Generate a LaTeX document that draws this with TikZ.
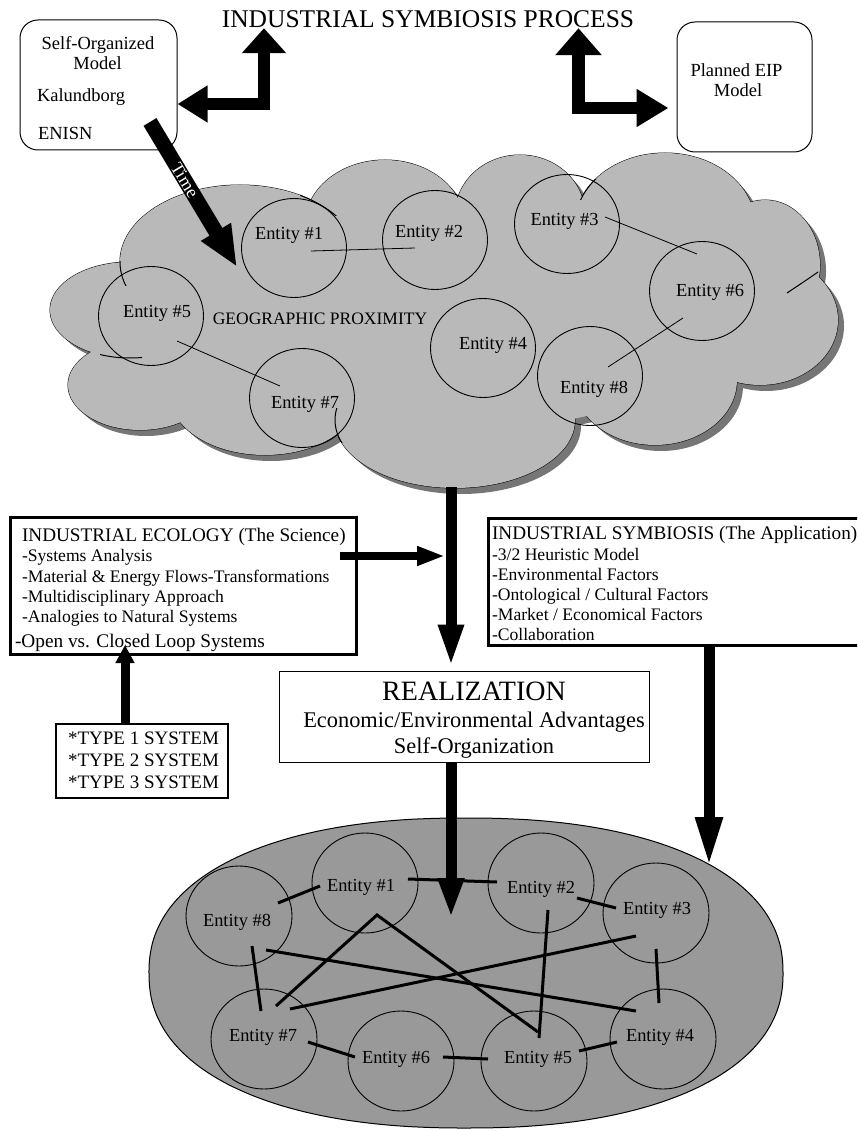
\documentclass[tikz,border=0pt]{standalone}
\usepackage{fontspec}
\setmainfont{Liberation Serif}
\usetikzlibrary{arrows.meta,shapes.geometric}
\definecolor{cloudc}{RGB}{185,185,185}
\definecolor{shadc}{RGB}{118,118,118}
\definecolor{ellc}{RGB}{153,153,153}
\newcommand\myfs[1]{\fontsize{#1}{#1}\selectfont}
\begin{document}
\begin{tikzpicture}[x=1pt,y=-1pt,
  txt/.style={inner sep=0pt,outer sep=0pt,anchor=base west,font=\myfs{17.6}},
  ctxt/.style={inner sep=0pt,outer sep=0pt,anchor=base,font=\myfs{18.5}},
  enttxt/.style={inner sep=0pt,anchor=base,font=\myfs{18.4}},
  ent/.style={draw,ellipse,line width=0.9pt,minimum width=105pt,minimum height=99pt,inner sep=0pt},
  bent/.style={draw,ellipse,line width=0.9pt,minimum width=106pt,minimum height=100pt,inner sep=0pt},
  rbox/.style={draw,rounded corners=18pt,line width=1pt,inner sep=0pt,fill=white},
  sqbox/.style={draw,inner sep=0pt,fill=white},
  cloudlink/.style={line width=0.8pt},
  link/.style={line width=3pt},
]
\useasboundingbox (0,0) rectangle (857,1131);
\clip (0,0) rectangle (857,1131);

% ---------------- title and top boxes
\node[ctxt,font=\myfs{25.5}] (title) at (428,28) {INDUSTRIAL SYMBIOSIS PROCESS};

\node[rbox,minimum width=157pt,minimum height=130pt] (selfbox) at (98.5,85) {};
\node[ctxt] (s1) at (98,50) {Self-Organized};
\node[ctxt] (s2) at (97.5,70) {Model};
\node[txt,font=\myfs{18.5}] (s3) at (37,102) {Kalundborg};
\node[txt,font=\myfs{18.5}] (s4) at (38,140) {ENISN};

\node[rbox,minimum width=135pt,minimum height=130pt] (planned) at (744.5,87) {};
\node[ctxt] (p1) at (736.5,77) {Planned EIP};
\node[ctxt] (p2) at (738,97) {Model};

% L-shaped arrows
\coordinate (lturn) at (264,104);
\draw[line width=12.5pt,line join=miter,{Triangle[length=30pt,width=35pt]}-{Triangle[length=25pt,width=43pt]}]
  (selfbox.east |- lturn) -- (lturn) -- (title.south -| lturn);
\coordinate (rturn) at (578.5,108);
\draw[line width=12.5pt,line join=miter,{Triangle[length=27pt,width=45pt]}-{Triangle[length=32pt,width=36pt]},shorten >=8pt]
  (title.south -| rturn) -- (rturn) -- (planned.west |- rturn);

% ---------------- cloud
\foreach \cx/\cy/\rx/\ry in {240/262/120/77, 385/225/80/65, 520/215/65/60, 665/225/90/72, 765/265/55/65, 760/320/78/65, 655/380/82/65, 455/420/120/68, 265/395/95/60, 140/385/72/45, 130/310/80/48, 450/320/280/110}
  \fill[shadc] (\cx+6,\cy+6) ellipse [x radius=\rx, y radius=\ry];
\foreach \cx/\cy/\rx/\ry in {240/262/120/77, 385/225/80/65, 520/215/65/60, 665/225/90/72, 765/265/55/65, 760/320/78/65, 655/380/82/65, 455/420/120/68, 265/395/95/60, 140/385/72/45, 130/310/80/48}
  \draw[line width=1pt] (\cx,\cy) ellipse [x radius=\rx, y radius=\ry];
\foreach \cx/\cy/\rx/\ry in {240/262/120/77, 385/225/80/65, 520/215/65/60, 665/225/90/72, 765/265/55/65, 760/320/78/65, 655/380/82/65, 455/420/120/68, 265/395/95/60, 140/385/72/45, 130/310/80/48, 450/320/280/110}
  \fill[cloudc] (\cx,\cy) ellipse [x radius=\rx, y radius=\ry];
% short inner strokes of the cloud
\foreach \cx/\cy/\rx/\ry/\xa/\ya/\xb/\yb in {240/262/120/77/114/262/136/286, 130/310/80/48/100/345/142/363, 455/420/120/68/328/408/346/442, 665/225/90/72/572/180/600/200, 240/262/120/77/300/190/342/216}
  {\begin{scope}
     \clip (\xa,\ya) rectangle (\xb,\yb);
     \draw[line width=1pt] (\cx,\cy) ellipse [x radius=\rx, y radius=\ry];
   \end{scope}}
\draw[line width=1pt] (818,272) .. controls (805,281) .. (787,293);

% cloud entities
\node[ent] (c1) at (294,248) {};
\node[ent] (c2) at (435,240) {};
\node[ent] (c3) at (567,224) {};
\node[ent] (c6) at (702,291) {};
\node[ent] (c4) at (483,348) {};
\node[ent] (c8) at (590,376) {};
\node[ent] (c5) at (151,316) {};
\node[ent] (c7) at (302,398) {};
\node[enttxt] (ct1) at (289,240) {Entity \#1};
\node[enttxt] (ct2) at (429,238) {Entity \#2};
\node[enttxt] (ct3) at (564.5,226) {Entity \#3};
\node[enttxt] (ct6) at (710,297) {Entity \#6};
\node[enttxt] (ct4) at (493,349) {Entity \#4};
\node[enttxt] (ct8) at (594,393) {Entity \#8};
\node[enttxt] (ct5) at (157,317) {Entity \#5};
\node[enttxt] (ct7) at (305,408) {Entity \#7};
\node[enttxt,font=\myfs{17.5}] (geo) at (320,324) {GEOGRAPHIC PROXIMITY};

\draw[cloudlink] ([shift={(17,3)}]c1.center) -- ([shift={(-20,8)}]c2.center);
\draw[cloudlink] ([shift={(26,25)}]c5.center) -- ([shift={(-22,-12)}]c7.center);
\draw[cloudlink] ([shift={(38,-7)}]c3.center) -- ([shift={(-5,-37)}]c6.center);
\draw[cloudlink] ([shift={(-19,27)}]c6.center) -- ([shift={(18,-9)}]c8.center);

% Time arrow
\coordinate (tstart) at (150,122);
\coordinate (tend) at (237,267);
\draw[line width=15pt,-{Triangle[length=41pt,width=32pt]}] (tstart) -- node[pos=0.4,sloped,inner sep=0pt,text=white,font=\myfs{18}] (timelbl) {Time} (tend);

% ---------------- middle boxes
\node[draw,line width=3pt,inner sep=0pt,minimum width=346pt,minimum height=137pt] (eco) at (183,585.5) {};
\node[txt,font=\myfs{19.2}] (e0) at (22,541) {INDUSTRIAL ECOLOGY (The Science)};
\node[txt] (e1) at (22,561.5) {-Systems Analysis};
\node[txt] (e2) at (22,582) {-Material \& Energy Flows-Transformations};
\node[txt] (e3) at (22,602) {-Multidisciplinary Approach};
\node[txt] (e4) at (22,622) {-Analogies to Natural Systems};
\node[txt,font=\myfs{19.3}] (e5) at (15,647) {-Open vs. Closed Loop Systems};

\node[draw,line width=3pt,inner sep=0pt,minimum width=382pt,minimum height=127pt] (sym) at (679,581.5) {};
\node[txt,font=\myfs{19.2}] (y0) at (492,539) {INDUSTRIAL SYMBIOSIS (The Application)};
\node[txt] (y1) at (492,560) {-3/2 Heuristic Model};
\node[txt] (y2) at (492,580) {-Environmental Factors};
\node[txt] (y3) at (492,600) {-Ontological / Cultural Factors};
\node[txt] (y4) at (492,620) {-Market / Economical Factors};
\node[txt] (y5) at (492,640.5) {-Collaboration};

\node[sqbox,line width=1.2pt,minimum width=172pt,minimum height=74pt] (type) at (142,761) {};
\node[txt,font=\myfs{19}] (ty1) at (68,744) {*TYPE 1 SYSTEM};
\node[txt,font=\myfs{19}] (ty2) at (68,766) {*TYPE 2 SYSTEM};
\node[txt,font=\myfs{19}] (ty3) at (68,788) {*TYPE 3 SYSTEM};

\node[sqbox,line width=1pt,minimum width=370pt,minimum height=91pt] (real) at (464,716.5) {};
\node[ctxt,font=\myfs{28}] (r1) at (474,700) {REALIZATION};
\node[ctxt,font=\myfs{22.4}] (r2) at (474,727) {Economic/Environmental Advantages};
\node[ctxt,font=\myfs{22.4}] (r3) at (474,753) {Self-Organization};

% ---------------- bottom network (slightly squarish oval)
\draw[fill=ellc,line width=1pt] plot[domain=0.5:358.5,samples=180,smooth cycle]
  ({466+317*sign(cos(\x))*abs(cos(\x))^(0.89)},{973+155*sign(sin(\x))*abs(sin(\x))^(0.89)});
\node[bent] (b8) at (239,916) {};
\node[bent] (b1) at (365,883) {};
\node[bent] (b2) at (541,883) {};
\node[bent] (b3) at (656,913) {};
\node[bent] (b7) at (264,1039) {};
\node[bent] (b6) at (401,1061) {};
\node[bent] (b5) at (534,1061) {};
\node[bent] (b4) at (663,1039) {};
\node[enttxt] (bt8) at (237,926) {Entity \#8};
\node[enttxt] (bt1) at (361,891) {Entity \#1};
\node[enttxt] (bt2) at (541,893) {Entity \#2};
\node[enttxt] (bt3) at (657,914) {Entity \#3};
\node[enttxt] (bt7) at (263,1041) {Entity \#7};
\node[enttxt] (bt6) at (396,1063) {Entity \#6};
\node[enttxt] (bt5) at (538,1063) {Entity \#5};
\node[enttxt] (bt4) at (660,1041) {Entity \#4};

\draw[link] ([shift={(39,-13)}]b8.center) -- ([shift={(-45,3)}]b1.center);
\draw[link] ([shift={(43,-4)}]b1.center) -- ([shift={(-44,-1)}]b2.center);
\draw[link] ([shift={(13,30)}]b8.center) -- ([shift={(-3,-28)}]b7.center);
\draw[link,line join=miter] ([shift={(12,-33)}]b7.center) -- ([shift={(12,32)}]b1.center) -- ([shift={(4,-29)}]b5.center);
\draw[link] ([shift={(27,34)}]b8.center) -- ([shift={(-27,-28)}]b4.center);
\draw[link] ([shift={(26,-30)}]b7.center) -- ([shift={(-20,23)}]b3.center);
\draw[link] ([shift={(7,27)}]b2.center) -- ([shift={(5,-23)}]b5.center);
\draw[link] ([shift={(36,15)}]b2.center) -- ([shift={(-40,-5)}]b3.center);
\draw[link] ([shift={(0,36)}]b3.center) -- ([shift={(-4,-36)}]b4.center);
\draw[link] ([shift={(45,-10)}]b5.center) -- ([shift={(-46,3)}]b4.center);
\draw[link] ([shift={(44,3)}]b7.center) -- ([shift={(-46,-4)}]b6.center);
\draw[link] ([shift={(42,-4)}]b6.center) -- ([shift={(-46,-2)}]b5.center);

% ---------------- straight arrows
\coordinate (cloudout) at (451,487);
\draw[line width=11pt,-{Triangle[length=43pt,width=23pt]},shorten >=3pt] (cloudout) -- (real.north -| cloudout);
\coordinate (rtip) at (451,918);
\draw[line width=11pt,-{Triangle[length=40pt,width=24pt]}] (real.south -| rtip) -- (rtip);
\coordinate (symtip) at (709,867);
\draw[line width=11pt,-{Triangle[length=50pt,width=25pt]}] (sym.south -| symtip) -- (symtip);
\coordinate (ecotip) at (445,556);
\draw[line width=8pt,-{Triangle[length=28pt,width=18pt]}] ([xshift=-18pt]eco.east |- ecotip) -- (ecotip);
\coordinate (typetip) at (125,645);
\draw[line width=9pt,-{Triangle[length=18pt,width=18pt]}] (type.north -| typetip) -- (typetip);
\end{tikzpicture}
\end{document}
